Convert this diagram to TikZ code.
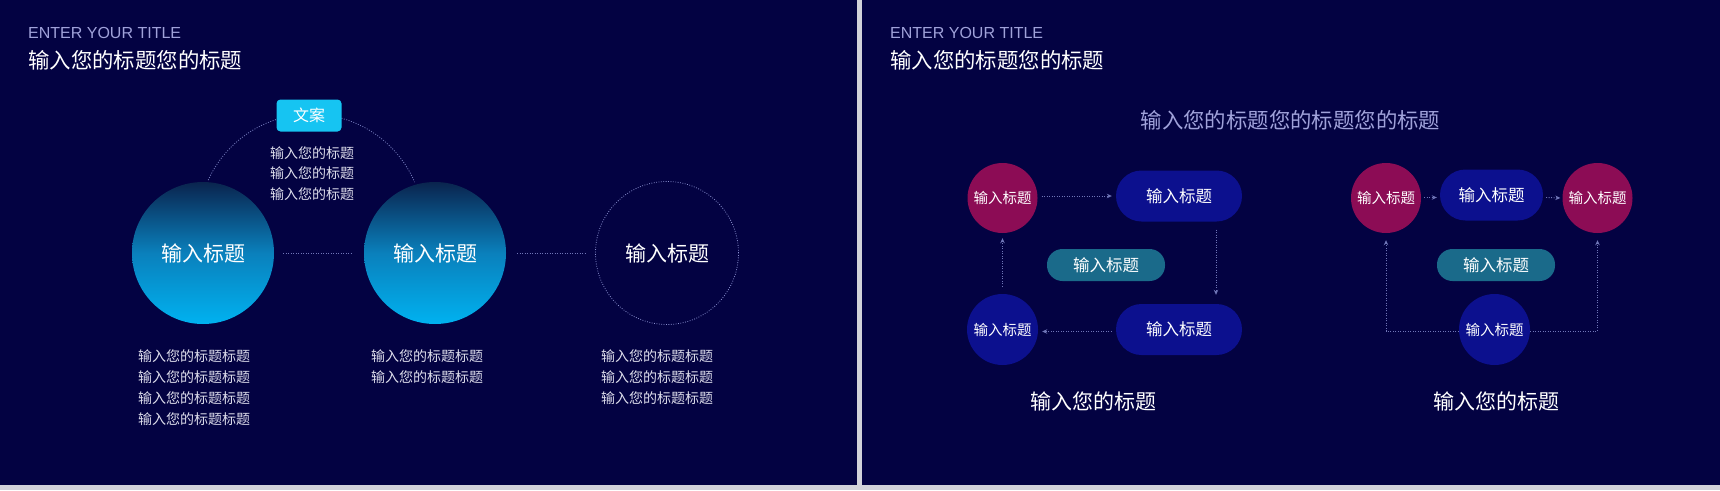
\documentclass[tikz,border=0pt]{standalone}
\usepackage{fontspec}
\setmainfont{Liberation Sans}
\newfontfamily\cjk{Noto Sans CJK SC}
\usetikzlibrary{arrows.meta}
\definecolor{bgnavy}{RGB}{3,2,66}
\definecolor{framegray}{RGB}{210,210,218}
\definecolor{lavtext}{RGB}{160,162,218}
\definecolor{lavline}{RGB}{112,118,184}
\definecolor{lavring}{RGB}{138,144,208}
\definecolor{grtop}{RGB}{10,36,78}
\definecolor{grmid}{RGB}{10,128,188}
\definecolor{grbot}{RGB}{0,178,240}
\definecolor{boxcyan}{RGB}{22,196,242}
\definecolor{magent}{RGB}{140,12,85}
\definecolor{deepblue}{RGB}{12,16,142}
\definecolor{tealc}{RGB}{26,106,138}
\definecolor{softwhite}{RGB}{222,222,236}
\tikzset{
  zh/.style={font=\cjk\fontsize{#1}{#1}\selectfont},
  entitle/.style={font=\fontsize{16}{18}\selectfont, text=lavtext, anchor=west, inner sep=0pt},
  bigtitle/.style={zh=21.4, text=white, anchor=west, inner sep=0pt},
  gradcirc/.style={circle, minimum size=142pt, inner sep=0pt, top color=grtop, bottom color=grbot, middle color=grmid, text=white, zh=21},
  ringcirc/.style={circle, minimum size=143pt, inner sep=0pt, draw=lavring, line width=0.8pt, dash pattern=on 0.8pt off 1.6pt, text=white, zh=21},
  linkline/.style={draw=lavline, line width=0.8pt, dash pattern=on 1pt off 1.5pt},
  coltext/.style={text=softwhite, align=left, anchor=west, inner sep=0pt, font=\cjk\fontsize{14}{20.8}\selectfont},
  mcirc/.style={circle, minimum size=70pt, inner sep=0pt, fill=magent, text=white, zh=14.5},
  bcirc/.style={circle, minimum size=71pt, inner sep=0pt, fill=deepblue, text=white, zh=14.5},
  bpill/.style={rectangle, rounded corners=25.5pt, minimum width=#1, minimum height=51pt, inner sep=0pt, fill=deepblue, text=white, zh=16.5},
  tpill/.style={rectangle, rounded corners=15.5pt, minimum width=118pt, minimum height=32pt, inner sep=0pt, fill=tealc, text=white, zh=16.5},
  arr/.style={draw=lavline, line width=0.9pt, dash pattern=on 1pt off 1.5pt, -{Stealth[length=5pt,width=4.5pt]}},
  caption/.style={zh=21, text=white}
}
\begin{document}
\begin{tikzpicture}[x=1pt,y=1pt]
\useasboundingbox (0,0) rectangle (1720,-490);
% background and frame
\fill[framegray] (0,0) rectangle (1720,-490);
\fill[bgnavy] (0,0) rectangle (857,-485);
\fill[bgnavy] (862,0) rectangle (1720,-485);

% ===== left panel =====
\node[entitle] (lt1) at (28,-32.5) {ENTER YOUR TITLE};
\node[bigtitle] (lt2) at (28,-60) {输入您的标题您的标题};

% dotted arc
\draw[linkline] (311,-227) ++(155.5:113) arc[start angle=155.5, end angle=23.4, radius=113];

\node[gradcirc] (c1) at (203,-253) {输入标题};
\node[gradcirc] (c2) at (435,-253) {输入标题};
\node[ringcirc] (c3) at (667,-253) {输入标题};

\draw[linkline] ([xshift=9pt]c1.east) -- ([xshift=-11pt]c2.west);
\draw[linkline] ([xshift=11pt]c2.east) -- ([xshift=-8pt]c3.west);

\node[rectangle, rounded corners=4pt, minimum width=65pt, minimum height=32pt, inner sep=0pt, fill=boxcyan, text=white, zh=16] (wa) at (309,-115.5) {文案};
\node[text=softwhite, align=center, inner sep=0pt, font=\cjk\fontsize{14}{20.3}\selectfont] (wtext) at (312,-173.6) {输入您的标题\\输入您的标题\\输入您的标题};

\node[coltext] (col1) at (138,-387.8) {输入您的标题标题\\输入您的标题标题\\输入您的标题标题\\输入您的标题标题};
\node[coltext] (col2) at (371,-366.9) {输入您的标题标题\\输入您的标题标题};
\node[coltext] (col3) at (601,-377.3) {输入您的标题标题\\输入您的标题标题\\输入您的标题标题};

% ===== right panel =====
\node[entitle] (rt1) at (890,-32.5) {ENTER YOUR TITLE};
\node[bigtitle] (rt2) at (890,-60) {输入您的标题您的标题};
\node[zh=21.4, text=lavtext] (sub) at (1290.5,-120.7) {输入您的标题您的标题您的标题};

% left loop group
\node[mcirc] (m1) at (1002.5,-198) {输入标题};
\node[bcirc] (b1) at (1002.5,-329.5) {输入标题};
\node[bpill=126pt] (p1) at (1179,-196) {输入标题};
\node[bpill=126pt] (p2) at (1179,-329.5) {输入标题};
\node[tpill] (t1) at (1106,-265) {输入标题};

\draw[arr] ([xshift=4pt,yshift=2pt]m1.east) -- ([xshift=-4pt]p1.west);
\draw[arr] ([xshift=37pt,yshift=-8pt]p1.south) -- ([xshift=37pt,yshift=9pt]p2.north);
\draw[arr] ([xshift=-4pt,yshift=-2pt]p2.west) -- ([xshift=4pt,yshift=-2pt]b1.east);
\draw[arr] ([yshift=7pt]b1.north) -- ([yshift=-5pt]m1.south);

\node[caption] (cap1) at (1093.5,-401.5) {输入您的标题};

% right group
\node[mcirc] (m2) at (1386,-198) {输入标题};
\node[bpill=103pt] (q1) at (1491.5,-195) {输入标题};
\node[mcirc] (m3) at (1597.5,-198) {输入标题};
\node[tpill] (t2) at (1496,-265) {输入标题};
\node[bcirc] (b2) at (1494.5,-329.5) {输入标题};

\draw[arr] ([xshift=3pt,yshift=0.5pt]m2.east) -- ([xshift=-3pt,yshift=-2.5pt]q1.west);
\draw[arr] ([xshift=3pt,yshift=-2.5pt]q1.east) -- ([xshift=-2pt]m3.west);
\draw[arr] ([yshift=-1.5pt]b2.west) -| ([yshift=-7pt]m2.south);
\draw[arr] ([yshift=-1.5pt]b2.east) -| ([yshift=-7pt]m3.south);

\node[caption] (cap2) at (1496,-401.5) {输入您的标题};
\end{tikzpicture}
\end{document}
